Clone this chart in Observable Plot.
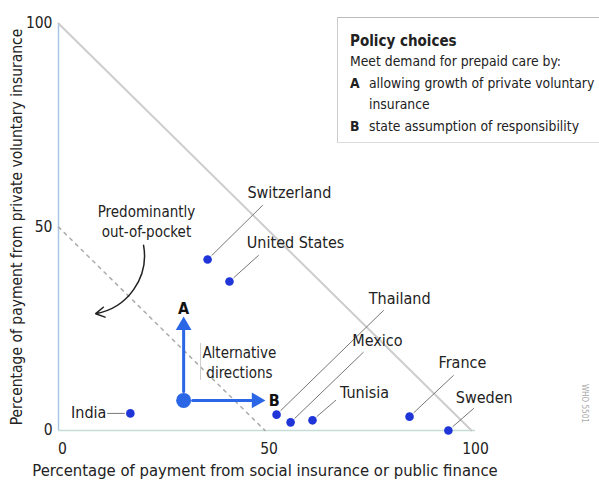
<!DOCTYPE html>
<html><head><meta charset="utf-8">
<script src="https://cdn.jsdelivr.net/npm/d3@7"></script>
<script src="https://cdn.jsdelivr.net/npm/@observablehq/plot@0.6"></script>
<style>
body{margin:0;background:#fff;}
#wrap{position:relative;width:599px;height:486px;overflow:hidden;
  font-family:"Liberation Sans Narrow","DejaVu Sans Condensed","DejaVu Sans",sans-serif;font-stretch:condensed;color:#222;}
#legend{position:absolute;left:337px;top:17px;width:262px;height:126px;box-sizing:border-box;
  border-top:1px solid #bbb;border-left:1px solid #ccc;border-bottom:1px solid #ddd;}
#legend .t{position:absolute;left:12px;top:14px;font-weight:bold;font-size:15px;}
#legend .l{position:absolute;font-size:13.8px;white-space:nowrap;}
#legend b{font-weight:bold;}
#who{position:absolute;left:589px;top:384px;font-size:8px;color:#aaa;transform:rotate(90deg);transform-origin:left top;white-space:nowrap;}
</style></head><body><div id="wrap"></div>
<script>
// data: countries, share of payment (percent)
const countries    = ["Switzerland","United States","India","Thailand","Mexico","Tunisia","France","Sweden"];
const publicShare  = [36.1, 41.4, 17.4, 52.8, 56.2, 61.5, 85.0, 94.4];
const privateShare = [42.0, 36.6, 4.2, 3.9, 2.0, 2.5, 3.4, 0];
// label anchors (data units)
const labelX  = [55.9, 57.4, 11.6, 82.6, 77.2, 74.1, 97.8, 103.1];
const labelY  = [58.5, 46.2, 4.4, 32.4, 22.1, 9.3, 16.7, 8.1];
const leaderX = [49.4, 48.4, 11.9, 78.7, 73.8, 67.1, 95.6, 100.5];
const leaderY = [55.3, 43.0, 4.2, 29.5, 19.2, 7.4, 13.5, 5.4];
const xTicks = [0, 50, 100];
const yTicks = [0, 50, 100];
const referenceSums = [100, 50];
// policy illustration
const startPoint = {x: 30.3, y: 7.4};
const directionA = {x: 30.3, y: 27.5, label: "A", rot: 0};
const directionB = {x: 49.6, y: 7.4, label: "B", rot: 90};

const FONT = '"Liberation Sans Narrow","DejaVu Sans Condensed","DejaVu Sans",sans-serif';
const BLUE = "#1f35d8";
const ABLUE = "#2a66e6";

const rows = countries.map((c, i) => ({
  country: c, x: publicShare[i], y: privateShare[i],
  lx: labelX[i], ly: labelY[i], sx: leaderX[i], sy: leaderY[i]
}));
const refLines = referenceSums.map(s => [{x: 0, y: s, s}, {x: s, y: 0, s}]);

const chart = Plot.plot({
  width: 599, height: 486,
  marginLeft: 58, marginRight: 128, marginTop: 23, marginBottom: 56,
  x: {domain: [0, 100], axis: null},
  y: {domain: [0, 100], axis: null},
  style: {fontFamily: FONT, fontSize: "14px", color: "#222", background: "transparent", overflow: "visible"},
  marks: [
    Plot.ruleX([0], {y1: 0, y2: 100, stroke: "#a9c6e6", strokeWidth: 1.5}),
    Plot.ruleY([0], {x1: 0, x2: 101, stroke: "#c5ddd8", strokeWidth: 1.5}),
    Plot.line(refLines[0], {x: "x", y: "y", stroke: "#cdcdcd", strokeWidth: 2}),
    Plot.line(refLines[1], {x: "x", y: "y", stroke: "#aaa", strokeWidth: 1.5, strokeDasharray: "3,5"}),
    Plot.axisX(xTicks, {tickSize: 0, tickPadding: 12, dx: 4, fontSize: 15.5, label: null, stroke: null}),
    Plot.axisY(yTicks, {tickSize: 0, tickPadding: 6, fontSize: 15.5, label: null, stroke: null}),
    Plot.text(["Percentage of payment from social insurance or public finance"], {frameAnchor: "bottom", dy: 45, fontSize: 16.5, fill: "#222"}),
    Plot.text(["Percentage of payment from private voluntary insurance"], {frameAnchor: "left", textAnchor: "middle", rotate: -90, dx: -41, fontSize: 15.5, fill: "#222"}),
    // leaders
    Plot.arrow(rows, {x1: "sx", y1: "sy", x2: "x", y2: "y", headLength: 0, insetEnd: 6, stroke: "#777", strokeWidth: 1}),
    // labels
    Plot.text(rows.filter(d => d.country !== "India"), {x: "lx", y: "ly", text: "country", fontSize: 16, fill: "#222"}),
    Plot.text(rows.filter(d => d.country === "India"), {x: "lx", y: "ly", text: "country", fontSize: 16, fill: "#222", textAnchor: "end"}),
    // predominantly out-of-pocket
    Plot.text(["Predominantly\nout-of-pocket"], {x: 21.3, y: 51.6, fontSize: 15, lineHeight: 1.35, fill: "#222"}),
    Plot.arrow([{x1: 20.6, y1: 45.5, x2: 9.0, y2: 28.7}], {x1: "x1", y1: "y1", x2: "x2", y2: "y2", bend: 45, headLength: 10, stroke: "#222", strokeWidth: 1.5}),
    // alternative directions
    Plot.ruleX([34.4], {y1: 12.3, y2: 21.4, stroke: "#ccc", strokeWidth: 1}),
    Plot.text(["Alternative\ndirections"], {x: 43.8, y: 16.9, fontSize: 15, lineHeight: 1.3, fill: "#222"}),
    Plot.arrow([directionA, directionB], {x1: startPoint.x, y1: startPoint.y, x2: "x", y2: "y", insetStart: 9, insetEnd: 9, headLength: 0, stroke: ABLUE, strokeWidth: 3}),
    Plot.dot([directionA], {x: "x", y: "y", symbol: "triangle2", r: 7.5, fill: ABLUE, dy: 7, rotate: "rot"}),
    Plot.dot([directionB], {x: "x", y: "y", symbol: "triangle2", r: 7.5, fill: ABLUE, dx: -7, rotate: "rot"}),
    Plot.dot([startPoint], {x: "x", y: "y", r: 7.5, fill: ABLUE}),
    Plot.text([directionA], {x: "x", y: "y", text: "label", dy: -10, fontSize: 16, fontWeight: "bold", fill: "#111"}),
    Plot.text([directionB], {x: "x", y: "y", text: "label", dx: 11, fontSize: 16, fontWeight: "bold", fill: "#111"}),
    // country points
    Plot.dot(rows, {x: "x", y: "y", r: 4.3, fill: BLUE})
  ]
});
const wrap = document.getElementById("wrap");
wrap.appendChild(chart);
const legend = document.createElement("div");
legend.id = "legend";
legend.innerHTML = `<div class="t">Policy choices</div>
<div class="l" style="left:12px;top:35px">Meet demand for prepaid care by:</div>
<div class="l" style="left:12px;top:57px"><b>A</b></div>
<div class="l" style="left:31px;top:57px">allowing growth of private voluntary</div>
<div class="l" style="left:31px;top:78px">insurance</div>
<div class="l" style="left:12px;top:100px"><b>B</b></div>
<div class="l" style="left:31px;top:100px">state assumption of responsibility</div>`;
wrap.appendChild(legend);
const who = document.createElement("div");
who.id = "who"; who.textContent = "WHO 5501";
wrap.appendChild(who);
</script></body></html>
